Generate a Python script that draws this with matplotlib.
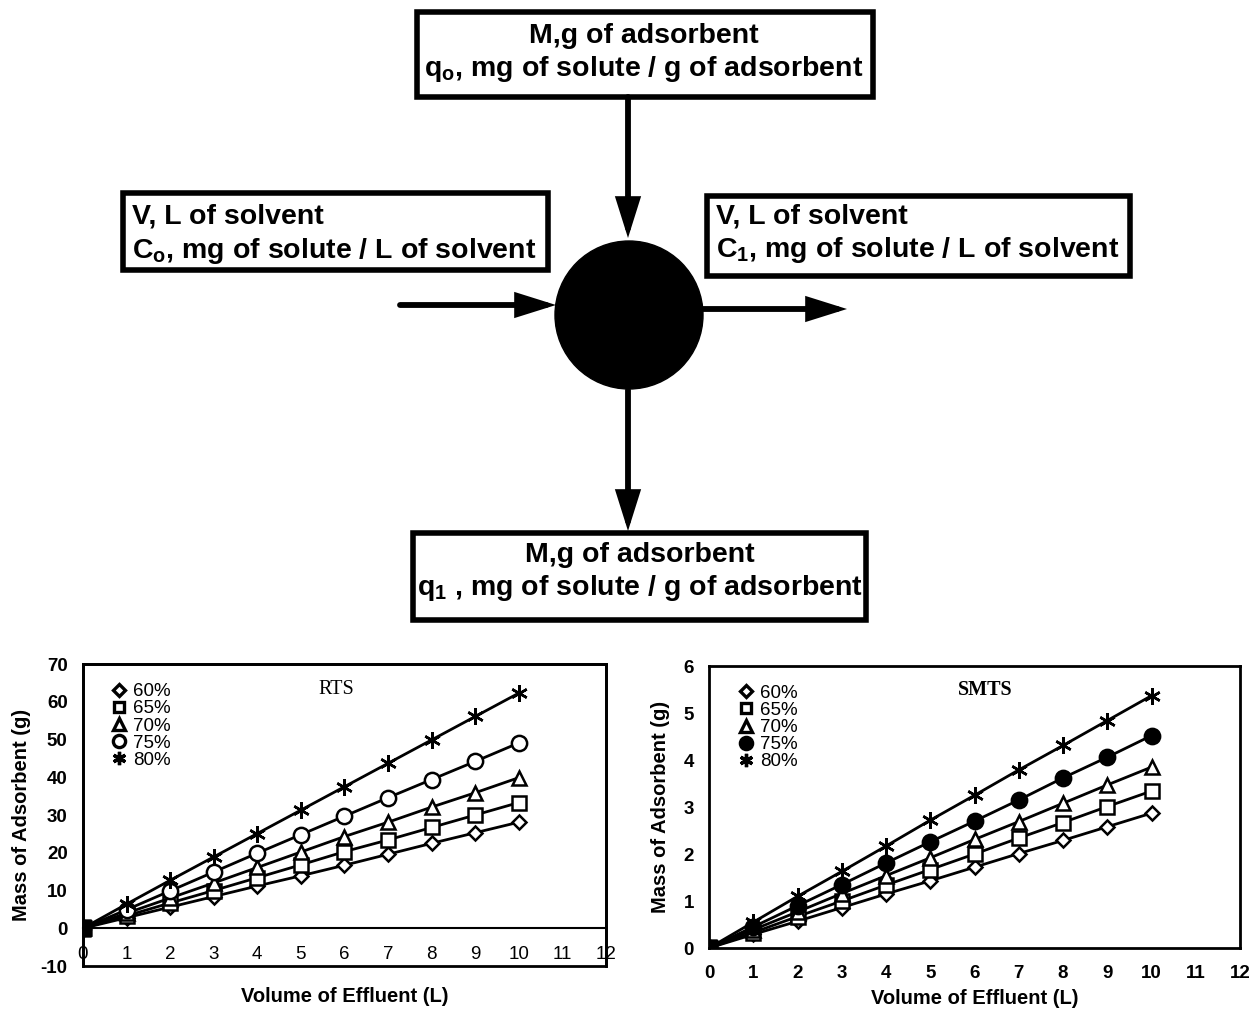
import matplotlib
matplotlib.use("Agg")
import matplotlib.pyplot as plt
from matplotlib.patches import Rectangle, Circle

plt.rcParams['font.family'] = ['Liberation Sans', 'DejaVu Sans']
plt.rcParams['mathtext.fontset'] = 'custom'
plt.rcParams['mathtext.rm'] = 'Liberation Sans:bold'
plt.rcParams['mathtext.bf'] = 'Liberation Sans:bold'
plt.rcParams['mathtext.default'] = 'bf'
plt.rcParams['axes.unicode_minus'] = False

# ---- data -------------------------------------------------------------
volume = [0, 1, 2, 3, 4, 5, 6, 7, 8, 9, 10]
percent_labels = ['60%', '65%', '70%', '75%', '80%']

rts_60 = [0, 2.8, 5.6, 8.4, 11.2, 13.9, 16.7, 19.6, 22.5, 25.3, 28.1]
rts_65 = [0, 3.3, 6.7, 10.0, 13.4, 16.8, 20.3, 23.4, 26.7, 30.0, 33.3]
rts_70 = [0, 4.0, 8.0, 12.0, 16.1, 20.2, 24.3, 28.1, 32.1, 35.9, 39.9]
rts_75 = [0, 4.9, 9.9, 14.9, 19.9, 24.8, 29.7, 34.6, 39.4, 44.2, 49.1]
rts_80 = [0, 6.4, 12.7, 18.9, 25.1, 31.3, 37.5, 43.7, 49.9, 56.1, 62.3]

smts_60 = [0, 0.29, 0.57, 0.86, 1.15, 1.43, 1.72, 2.01, 2.29, 2.58, 2.87]
smts_65 = [0, 0.33, 0.67, 1.00, 1.34, 1.67, 2.00, 2.34, 2.67, 3.01, 3.34]
smts_70 = [0, 0.39, 0.77, 1.16, 1.54, 1.92, 2.31, 2.69, 3.08, 3.47, 3.85]
smts_75 = [0, 0.45, 0.90, 1.35, 1.81, 2.26, 2.70, 3.15, 3.62, 4.06, 4.52]
smts_80 = [0, 0.55, 1.10, 1.63, 2.17, 2.72, 3.25, 3.79, 4.31, 4.84, 5.37]

rts_series = [rts_60, rts_65, rts_70, rts_75, rts_80]
smts_series = [smts_60, smts_65, smts_70, smts_75, smts_80]

x_ticks = list(range(0, 13))
rts_y_ticks = list(range(-10, 71, 10))
smts_y_ticks = list(range(0, 7))

W, H = 1257, 1011
fig = plt.figure(figsize=(W / 100, H / 100), dpi=100)

# ---- flow diagram (pixel coordinates, y downward) ---------------------
dg = fig.add_axes([0, 0, 1, 1])
dg.set_xlim(0, W)
dg.set_ylim(H, 0)
dg.axis('off')

def box(x0, y0, x1, y1, lw=4.0):
    dg.add_patch(Rectangle((x0, y0), x1 - x0, y1 - y0, fill=False,
                           edgecolor='black', linewidth=lw))

def arrow(x0, y0, x1, y1):
    dg.annotate('', xy=(x1, y1), xytext=(x0, y0),
                arrowprops=dict(arrowstyle='-|>,head_length=1.05,head_width=0.33',
                                lw=4.2, color='black', mutation_scale=20,
                                shrinkA=0, shrinkB=0, joinstyle='miter'))

txt = dict(fontsize=20.5, fontweight='bold', color='black')

box(417, 12, 873, 97)
dg.text(644, 36, 'M,g of adsorbent', ha='center', va='center', **txt)
dg.text(644, 69, 'q$_o$, mg of solute / g of adsorbent', ha='center', va='center', **txt)

box(123, 193, 548, 270)
dg.text(132, 216, 'V, L of solvent', ha='left', va='center', **txt)
dg.text(132, 251, 'C$_o$, mg of solute / L of solvent', ha='left', va='center', **txt)

box(707, 196, 1130, 276)
dg.text(716, 216, 'V, L of solvent', ha='left', va='center', **txt)
dg.text(716, 250, 'C$_1$, mg of solute / L of solvent', ha='left', va='center', **txt)

box(413, 533, 866, 620)
dg.text(640, 555, 'M,g of adsorbent', ha='center', va='center', **txt)
dg.text(640, 588, 'q$_1$ , mg of solute / g of adsorbent', ha='center', va='center', **txt)

dg.add_patch(Circle((629, 315), 74, color='black'))
arrow(628, 97, 628, 238)
arrow(400, 305, 556, 305)
arrow(703, 309, 847, 309)
arrow(628, 390, 628, 531)

# ---- adsorption charts ------------------------------------------------
rts_markers = [dict(marker='D', ms=7.5), dict(marker='s', ms=9.5), dict(marker='^', ms=10),
               dict(marker='o', ms=11), dict(marker=(6, 2, 0), ms=12)]
smts_markers = [dict(marker='D', ms=7.5), dict(marker='s', ms=9.5), dict(marker='^', ms=10),
                dict(marker='o', ms=11, mfc='black'), dict(marker=(6, 2, 0), ms=12)]

def draw_chart(ax, series, markers, yticks, ylim, title, title_x, title_weight, zero_axis):
    for ys, mk, lab in zip(series, markers, percent_labels):
        style = dict(color='black', lw=2.0, mec='black', mew=1.8, mfc='white')
        style.update(mk)
        ax.plot(volume, ys, label=lab, **style)
        ax.plot(volume[:1], ys[:1], 's', color='black', ms=11, zorder=5)
    ax.set_xlim(0, 12)
    ax.set_ylim(*ylim)
    ax.set_xticks(x_ticks)
    ax.set_yticks(yticks)
    ax.tick_params(length=0, labelsize=13.5)
    ax.tick_params(axis='y', pad=11)
    for lbl in ax.get_xticklabels() + ax.get_yticklabels():
        lbl.set_fontweight('bold')
    for sp in ax.spines.values():
        sp.set_linewidth(2.0)
    if zero_axis:
        ax.spines['bottom'].set_position(('data', 0))
        ax.spines['bottom'].set_linewidth(1.5)
        ax.add_patch(Rectangle((0, 0), 1, 1, transform=ax.transAxes, fill=False,
                               edgecolor='black', lw=2.0, clip_on=False))
    ax.set_xlabel('Volume of Effluent (L)', fontsize=14.5, fontweight='bold')
    ax.set_ylabel('Mass of Adsorbent (g)', fontsize=14.5, fontweight='bold')
    ax.text(title_x, 0.915, title, transform=ax.transAxes, ha='center', va='center',
            fontsize=14.5, fontweight=title_weight, family='Liberation Serif')
    leg = ax.legend(loc='upper left', bbox_to_anchor=(0.03, 0.98), frameon=False,
                    fontsize=13.5, labelspacing=0.0, handlelength=0.8,
                    handletextpad=0.35, borderpad=0.2, markerscale=0.8)
    for h in leg.legend_handles:
        h.set_linestyle('none')
        h.set_markeredgewidth(2.4)

ax1 = fig.add_axes([0.0660, 0.0445, 0.4161, 0.2987])
draw_chart(ax1, rts_series, rts_markers, rts_y_ticks, (-10, 70), 'RTS', 0.485, 'normal', True)
ax1.tick_params(axis='x', pad=13)
ax1.xaxis.labelpad = 17
ax1.yaxis.labelpad = 7

ax2 = fig.add_axes([0.5641, 0.0623, 0.4224, 0.2789])
draw_chart(ax2, smts_series, smts_markers, smts_y_ticks, (0, 6), 'SMTS', 0.52, 'bold', False)
ax2.tick_params(axis='x', pad=12)
ax2.xaxis.labelpad = 5
ax2.yaxis.labelpad = 10

fig.savefig('out.png', dpi=100, facecolor='white')
